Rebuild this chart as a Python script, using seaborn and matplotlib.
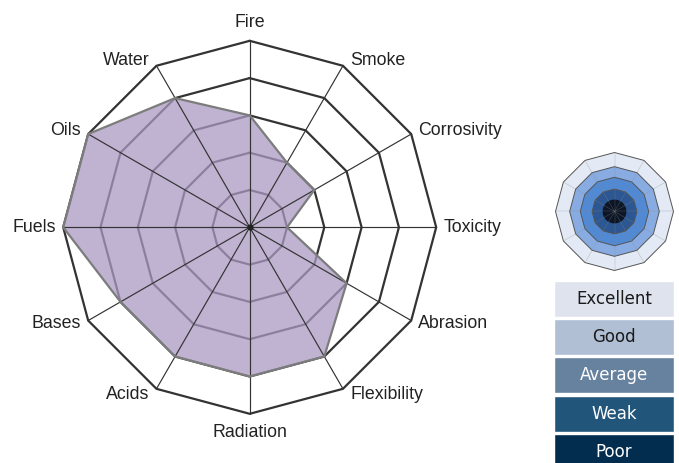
import matplotlib
matplotlib.use("Agg")
import matplotlib.pyplot as plt
import numpy as np
import seaborn as sns

sns.set_theme(style="white")
plt.rcParams["font.family"] = ["Liberation Sans", "DejaVu Sans"]

# chart data
AXES = ["Fire", "Smoke", "Corrosivity", "Toxicity", "Abrasion", "Flexibility",
        "Radiation", "Acids", "Bases", "Fuels", "Oils", "Water"]
SCORES = [3, 2, 2, 1, 3, 4, 4, 4, 4, 5, 5, 4]
LEVELS = [1, 2, 3, 4, 5]

RATINGS = ["Excellent", "Good", "Average", "Weak", "Poor"]
RATING_COLORS = ["#dfe3ee", "#b0bfd4", "#67829f", "#22557a", "#022d4f"]
RATING_TEXT = ["#1a1a1a", "#1a1a1a", "#ffffff", "#ffffff", "#ffffff"]

# icon bands, outer to inner
ICON_RADII = [1.0, 0.76, 0.58, 0.38]
ICON_COLORS = ["#e3eaf5", "#88ace2", "#5289d3", "#2c5792"]
ICON_CORE = "#0c1626"

W, H, DPI = 679, 463, 100
CX, CY, PX = 249.7, 227.3, 37.3   # centre (px from left/top), px per unit

fig = plt.figure(figsize=(W / DPI, H / DPI), dpi=DPI)
ax = fig.add_axes([0, 0, 1, 1])
ax.set_xlim(-CX / PX, (W - CX) / PX)
ax.set_ylim(-(H - CY) / PX, CY / PX)
ax.set_aspect("equal")
ax.axis("off")

theta = np.deg2rad(np.arange(len(AXES)) * 360 / len(AXES))
sx, sy = np.sin(theta), np.cos(theta)
closed = lambda a: np.append(a, a[0])

# grid rings
for lv in LEVELS:
    ax.plot(closed(sx * lv), closed(sy * lv), color="#333333", lw=1.6,
            zorder=1, solid_joinstyle="miter")

# score polygon
vals = np.array(SCORES, dtype=float)
ax.fill(sx * vals, sy * vals, color="#aa9ac2", alpha=0.75, lw=0, zorder=2)

# spokes
rmax = max(LEVELS)
for x, y in zip(sx, sy):
    ax.plot([0, x * rmax], [0, y * rmax], color="#333333", lw=0.85, zorder=3)
ax.plot(closed(sx * vals), closed(sy * vals), color="#7c7c7c", lw=1.6,
        zorder=4, solid_joinstyle="miter")
ax.scatter([0], [0], s=12, color="#222222", zorder=5)

# axis labels
for name, x, y in zip(AXES, sx, sy):
    if abs(x) < 0.1:
        lx, ly, ha = 0, y * (rmax + 0.5), "center"
    else:
        lx = x * rmax + np.sign(x) * 0.19
        ly = y * rmax + 0.17 * y
        ha = "left" if x > 0 else "right"
    ax.text(lx, ly, name, ha=ha, va="center", fontsize=12.8, color="#222222")

# rating icon
icx, icy, ir = (614.5 - CX) / PX, (CY - 211.5) / PX, 59 / PX
for r, c in zip(ICON_RADII, ICON_COLORS):
    ax.fill(icx + sx * r * ir, icy + sy * r * ir, facecolor=c,
            edgecolor="#555555", lw=0.7, zorder=6)
ax.add_patch(plt.Circle((icx, icy), 0.19 * ir, color=ICON_CORE, zorder=7))
for x, y in zip(sx, sy):
    ax.plot([icx, icx + x * ir], [icy, icy + y * ir], color="#888888",
            lw=0.35, alpha=0.5, zorder=8)

# rating scale
lax = fig.add_axes([554 / W, -0.017, 120.3 / W, 191 / H])
sns.barplot(x=[1] * len(RATINGS), y=RATINGS, hue=RATINGS, palette=RATING_COLORS,
            legend=False, width=0.94, saturation=1, ax=lax)
lax.set_xlim(0, 1)
lax.set_ylim(len(RATINGS) - 0.5, -0.5)
lax.axis("off")
for i, (lab, tc) in enumerate(zip(RATINGS, RATING_TEXT)):
    lax.text(0.5, i, lab, ha="center", va="center", fontsize=12,
             color=tc, family=["DejaVu Sans"])

fig.savefig("out.png", dpi=DPI)
